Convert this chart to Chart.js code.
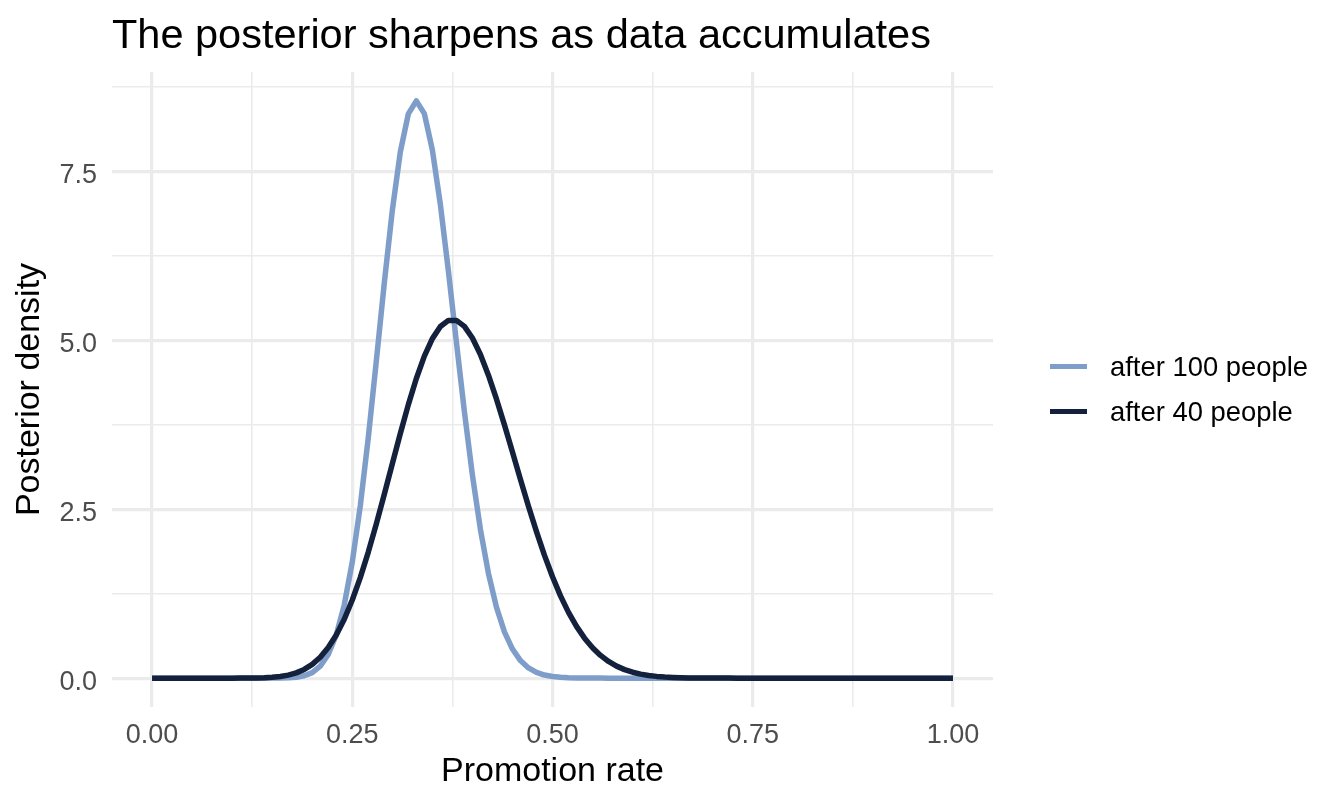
<!DOCTYPE html>
<html>
<head>
<meta charset="utf-8">
<title>The posterior sharpens as data accumulates</title>
<script src="https://cdn.jsdelivr.net/npm/chart.js@4.4.1/dist/chart.umd.min.js"></script>
<style>
  body { margin: 0; background: #fff; }
  #wrap { position: relative; width: 1344px; height: 806px; font-family: "Liberation Sans", Arial, sans-serif; }
  #chart { position: absolute; left: 0; top: 0; }
  #title { position: absolute; left: 112px; top: 13px; font-size: 41.5px; line-height: 1; color: #000; white-space: nowrap; }
  .legend-row { position: absolute; left: 1050px; height: 28px; font-size: 27.4px; line-height: 28px; color: #000; white-space: nowrap; }
  .legend-row .key { position: absolute; left: 0; top: 10.6px; width: 37px; height: 5.5px; }
  .legend-row .label { position: absolute; left: 60px; top: 0; }
</style>
</head>
<body>
<div id="wrap">
  <canvas id="chart" width="1344" height="806"></canvas>
  <div id="title">The posterior sharpens as data accumulates</div>
  <div id="legend"></div>
</div>
<script>
// ===== Data =====
const rate = [
  0.00, 0.01, 0.02, 0.03, 0.04, 0.05, 0.06, 0.07, 0.08, 0.09,
  0.10, 0.11, 0.12, 0.13, 0.14, 0.15, 0.16, 0.17, 0.18, 0.19,
  0.20, 0.21, 0.22, 0.23, 0.24, 0.25, 0.26, 0.27, 0.28, 0.29,
  0.30, 0.31, 0.32, 0.33, 0.34, 0.35, 0.36, 0.37, 0.38, 0.39,
  0.40, 0.41, 0.42, 0.43, 0.44, 0.45, 0.46, 0.47, 0.48, 0.49,
  0.50, 0.51, 0.52, 0.53, 0.54, 0.55, 0.56, 0.57, 0.58, 0.59,
  0.60, 0.61, 0.62, 0.63, 0.64, 0.65, 0.66, 0.67, 0.68, 0.69,
  0.70, 0.71, 0.72, 0.73, 0.74, 0.75, 0.76, 0.77, 0.78, 0.79,
  0.80, 0.81, 0.82, 0.83, 0.84, 0.85, 0.86, 0.87, 0.88, 0.89,
  0.90, 0.91, 0.92, 0.93, 0.94, 0.95, 0.96, 0.97, 0.98, 0.99,
  1.00
];

const after100 = [
  0, 0, 0, 0, 0, 0, 0, 0, 0, 0,
  0, 0, 0, 0, 0.0001, 0.0004, 0.0014, 0.0045, 0.0133, 0.0348,
  0.0822, 0.1770, 0.3500, 0.6391, 1.0844, 1.7172, 2.5489, 3.5590, 4.6903, 5.8499,
  6.9225, 7.7897, 8.3517, 8.5440, 8.3554, 7.8189, 7.0104, 6.0281, 4.9750, 3.9440,
  3.0047, 2.2012, 1.5510, 1.0514, 0.6859, 0.4306, 0.2601, 0.1512, 0.0845, 0.0454,
  0.0235, 0.0117, 0.0056, 0.0025, 0.0011, 0.0005, 0.0002, 0.0001, 0, 0,
  0, 0, 0, 0, 0, 0, 0, 0, 0, 0,
  0, 0, 0, 0, 0, 0, 0, 0, 0, 0,
  0, 0, 0, 0, 0, 0, 0, 0, 0, 0,
  0, 0, 0, 0, 0, 0, 0, 0, 0, 0,
  0
];

const after40 = [
  0, 0, 0, 0, 0, 0, 0, 0, 0, 0,
  0.0001, 0.0004, 0.0010, 0.0026, 0.0059, 0.0124, 0.0243, 0.0448, 0.0779, 0.1290,
  0.2042, 0.3099, 0.4529, 0.6389, 0.8725, 1.1559, 1.4883, 1.8655, 2.2802, 2.7209,
  3.1735, 3.6218, 4.0482, 4.4346, 4.7651, 5.0250, 5.2039, 5.2946, 5.2946, 5.2060,
  5.0345, 4.7901, 4.4846, 4.1322, 3.7477, 3.3460, 2.9409, 2.5447, 2.1677, 1.8174,
  1.5000, 1.2182, 0.9736, 0.7654, 0.5917, 0.4498, 0.3361, 0.2467, 0.1778, 0.1258,
  0.0873, 0.0594, 0.0396, 0.0258, 0.0165, 0.0103, 0.0063, 0.0037, 0.0022, 0.0012,
  0.0007, 0.0003, 0.0002, 0.0001, 0, 0, 0, 0, 0, 0,
  0, 0, 0, 0, 0, 0, 0, 0, 0, 0,
  0, 0, 0, 0, 0, 0, 0, 0, 0, 0,
  0
];

const seriesNames = ["after 100 people", "after 40 people"];
const seriesColors = ["#7F9DC9", "#14213D"];

// major + minor grid positions (labels only on the major ones)
const xTicks = [0, 0.125, 0.25, 0.375, 0.5, 0.625, 0.75, 0.875, 1];
const yTicks = [0, 1.25, 2.5, 3.75, 5, 6.25, 7.5, 8.75];
const xMajor = 0.25;
const yMajor = 2.5;

// ===== Helpers =====
const FONT = '"Liberation Sans", Arial, sans-serif';
const isMajor = (v, step) => Math.abs(v / step - Math.round(v / step)) < 1e-9;
const toPoints = (ys) => rate.map((x, i) => ({ x: x, y: ys[i] }));

// ===== Legend (HTML) =====
const legend = document.getElementById("legend");
const legendTops = [353.2, 398.2];
seriesNames.forEach((name, i) => {
  const row = document.createElement("div");
  row.className = "legend-row";
  row.style.top = legendTops[i] + "px";
  row.innerHTML = `<span class="key" style="background:${seriesColors[i]}"></span><span class="label">${name}</span>`;
  legend.appendChild(row);
});

// ===== Chart =====
new Chart(document.getElementById("chart"), {
  type: "line",
  data: {
    datasets: [
      {
        label: seriesNames[0],
        data: toPoints(after100),
        borderColor: seriesColors[0],
        borderWidth: 5.5,
        order: 1
      },
      {
        label: seriesNames[1],
        data: toPoints(after40),
        borderColor: seriesColors[1],
        borderWidth: 5.5,
        order: 0
      }
    ]
  },
  options: {
    responsive: false,
    animation: false,
    layout: { padding: { top: 72, right: 351, left: 0, bottom: 0 } },
    elements: {
      point: { radius: 0 },
      line: { tension: 0, fill: false, borderCapStyle: "butt", borderJoinStyle: "round" }
    },
    plugins: {
      legend: { display: false },
      tooltip: { enabled: false },
      title: { display: false }
    },
    scales: {
      x: {
        type: "linear",
        min: -0.05,
        max: 1.05,
        afterBuildTicks: (scale) => { scale.ticks = xTicks.map((v) => ({ value: v })); },
        afterFit: (scale) => { scale.height = 99; },
        border: { display: false },
        grid: {
          color: "#EBEBEB",
          lineWidth: (ctx) => (isMajor(ctx.tick.value, xMajor) ? 3.2 : 1.6),
          drawTicks: false
        },
        ticks: {
          autoSkip: false,
          maxRotation: 0,
          minRotation: 0,
          padding: 12,
          color: "#4D4D4D",
          font: { family: FONT, size: 27 },
          callback: (v) => (isMajor(v, xMajor) ? v.toFixed(2) : "")
        },
        title: {
          display: true,
          text: "Promotion rate",
          color: "#000",
          font: { family: FONT, size: 34 },
          padding: { top: 0, bottom: 13.9 }
        }
      },
      y: {
        type: "linear",
        min: -0.4272,
        max: 8.9712,
        afterBuildTicks: (scale) => { scale.ticks = yTicks.map((v) => ({ value: v })); },
        afterFit: (scale) => { scale.width = 112; },
        border: { display: false },
        grid: {
          color: "#EBEBEB",
          lineWidth: (ctx) => (isMajor(ctx.tick.value, yMajor) ? 3.2 : 1.6),
          drawTicks: false
        },
        ticks: {
          autoSkip: false,
          padding: 15,
          labelOffset: 4,
          color: "#4D4D4D",
          font: { family: FONT, size: 27 },
          callback: (v) => (isMajor(v, yMajor) ? v.toFixed(1) : "")
        },
        title: {
          display: true,
          text: "Posterior density",
          color: "#000",
          font: { family: FONT, size: 34 },
          padding: { top: 9.6, bottom: 0 }
        }
      }
    }
  }
});
</script>
</body>
</html>
